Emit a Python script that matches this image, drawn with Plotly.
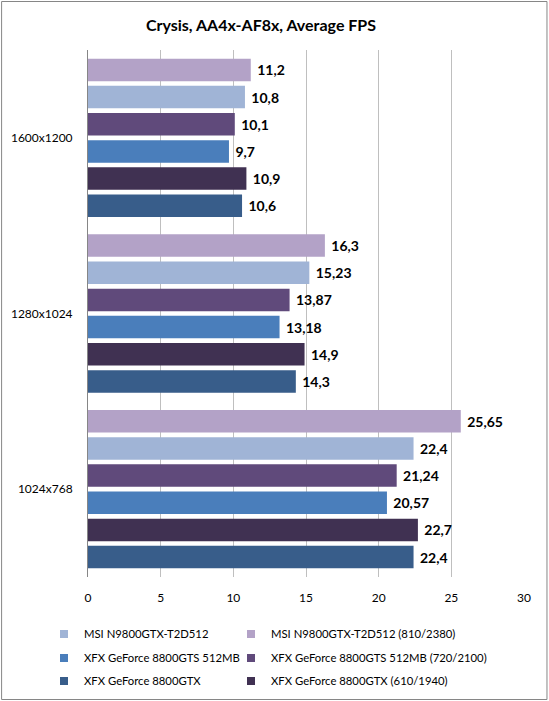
import plotly.graph_objects as go

categories = ["1024x768", "1280x1024", "1600x1200"]

series_names = [
    "XFX GeForce 8800GTX",
    "XFX GeForce 8800GTX (610/1940)",
    "XFX GeForce 8800GTS 512MB",
    "XFX GeForce 8800GTS 512MB (720/2100)",
    "MSI N9800GTX-T2D512",
    "MSI N9800GTX-T2D512 (810/2380)",
]

gtx = [22.4, 14.3, 10.6]
gtx_oc = [22.7, 14.9, 10.9]
gts = [20.57, 13.18, 9.7]
gts_oc = [21.24, 13.87, 10.1]
msi = [22.4, 15.23, 10.8]
msi_oc = [25.65, 16.3, 11.2]

values = [gtx, gtx_oc, gts, gts_oc, msi, msi_oc]
colors = ["#385D8A", "#403152", "#4A7EBB", "#604A7B", "#A0B4D6", "#B3A2C7"]

x_ticks = [0, 5, 10, 15, 20, 25, 30]

# legend grid: (series index, row, column)
legend_cells = [(4, 0, 0), (5, 0, 1), (2, 1, 0), (3, 1, 1), (0, 2, 0), (1, 2, 1)]

FONT = "Lato"

W, H = 549, 701
L, R, T, B = 88, 24.5, 50, 124
pw, ph = W - L - R, H - T - B

fig = go.Figure()
for i, (name, vals, col) in enumerate(zip(series_names, values, colors)):
    fig.add_trace(go.Bar(
        y=categories, x=vals, orientation="h", name=name,
        marker=dict(color=col, line=dict(width=0)),
        text=["\u00a0" + f"{v:g}".replace(".", ",") for v in vals],
        textposition="outside", cliponaxis=False,
        textfont=dict(family=FONT, size=14, color="black", weight="bold"),
        showlegend=False,
    ))

row_y = [634, 658, 681]
col_x = [44, 231]
legend_layouts = {}
for k, (i, r, c) in enumerate(legend_cells):
    lid = "legend" if k == 0 else f"legend{k + 1}"
    fig.add_trace(go.Scatter(
        x=[None], y=[None], mode="markers", name=series_names[i],
        marker=dict(symbol="square", size=8, color=colors[i]),
        legend=lid, showlegend=True,
    ))
    legend_layouts[lid] = dict(
        orientation="h", xref="container", yref="container",
        xanchor="left", yanchor="middle",
        x=col_x[c] / W, y=1 - row_y[r] / H,
        font=dict(family=FONT, size=11.3, color="black"),
        bgcolor="rgba(0,0,0,0)", borderwidth=0,
    )

def px_to_paper_x(px):
    return (px - L) / pw

def px_to_paper_y(py):
    return (H - B - py) / ph

fig.update_layout(
    width=W, height=H,
    margin=dict(l=L, r=R, t=T, b=B, autoexpand=False),
    paper_bgcolor="white", plot_bgcolor="white",
    barmode="group", bargap=0.072, bargroupgap=0.17,
    title=dict(text="<b>Crysis, AA4x-AF8x, Average FPS</b>",
               x=261 / W, xanchor="center", xref="container",
               y=1 - 25 / H, yanchor="middle", yref="container",
               font=dict(family=FONT, size=16, color="black")),
    xaxis=dict(range=[0, 30], tickvals=x_ticks, showgrid=True,
               gridcolor="#BFBFBF", gridwidth=1, zeroline=False,
               showline=False, ticks="", ticklabelstandoff=12,
               tickfont=dict(family=FONT, size=12, color="black")),
    yaxis=dict(type="category", categoryorder="array", categoryarray=categories,
               showline=True, linecolor="#868686", linewidth=1,
               showgrid=False, ticks="", ticklabelstandoff=12,
               tickfont=dict(family=FONT, size=12, color="black")),
    shapes=[dict(type="rect", xref="paper", yref="paper",
                 x0=px_to_paper_x(1.5), x1=px_to_paper_x(547.5),
                 y0=px_to_paper_y(699.5), y1=px_to_paper_y(1.5),
                 line=dict(color="#868686", width=1), fillcolor="rgba(0,0,0,0)",
                 layer="below")],
    **legend_layouts,
)

fig.write_html("out.html")
